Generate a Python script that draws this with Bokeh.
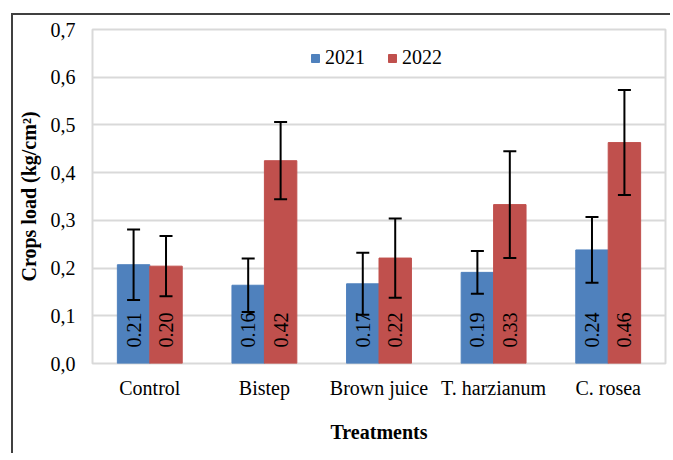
import math
from bokeh.plotting import figure
from bokeh.models import (ColumnDataSource, FactorRange, Range1d, FixedTicker,
                          Whisker, TeeHead, Legend, LegendItem)
from bokeh.transform import dodge
from bokeh.core.properties import value
from bokeh.embed import file_html
from bokeh.resources import INLINE

# ---- data ----
treatments = ["Control", "Bistep", "Brown juice", "T. harzianum", "C. rosea"]
years = ["2021", "2022"]
load_2021 = [0.207, 0.164, 0.167, 0.191, 0.238]
load_2022 = [0.204, 0.425, 0.221, 0.333, 0.463]
err_2021 = [0.074, 0.056, 0.065, 0.045, 0.069]
err_2022 = [0.063, 0.081, 0.083, 0.112, 0.110]
labels_2021 = ["0.21", "0.16", "0.17", "0.19", "0.24"]
labels_2022 = ["0.20", "0.42", "0.22", "0.33", "0.46"]
y_ticks = [0.0, 0.1, 0.2, 0.3, 0.4, 0.5, 0.6, 0.7]
y_tick_labels = ["0,0", "0,1", "0,2", "0,3", "0,4", "0,5", "0,6", "0,7"]

FONT = "Liberation Serif"
BLUE = "#4F81BD"
RED = "#C0504D"
GRID = "#d9d9d9"

src = ColumnDataSource(dict(
    cat=treatments,
    v21=load_2021, v22=load_2022,
    lo21=[v - e for v, e in zip(load_2021, err_2021)],
    hi21=[v + e for v, e in zip(load_2021, err_2021)],
    lo22=[v - e for v, e in zip(load_2022, err_2022)],
    hi22=[v + e for v, e in zip(load_2022, err_2022)],
    t21=labels_2021, t22=labels_2022,
    base=[0.0] * len(treatments),
))

p = figure(width=659, height=440, output_backend="svg", toolbar_location=None,
           x_range=FactorRange(*treatments, range_padding=0.0),
           y_range=Range1d(0, 0.7),
           min_border_left=79, min_border_top=14, min_border_right=7,
           min_border_bottom=92)
p.styles = {"border-left": "2px solid #404040", "border-top": "2px solid #404040"}
p.margin = (13, 0, 0, 11)

W = 0.283
OFF = 0.1415
r21 = p.vbar(x=dodge("cat", -OFF, range=p.x_range), top="v21", width=W, source=src,
             fill_color=BLUE, line_color=BLUE)
r22 = p.vbar(x=dodge("cat", OFF, range=p.x_range), top="v22", width=W, source=src,
             fill_color=RED, line_color=RED)

for col, off in (("t21", -OFF), ("t22", OFF)):
    p.text(x=dodge("cat", off, range=p.x_range), y="base", text=col, source=src,
           angle=math.pi / 2, text_align="left", text_baseline="middle",
           y_offset=-16, text_font=value(FONT), text_font_size="20px",
           text_color="black")

for lo, hi, off in (("lo21", "hi21", -OFF), ("lo22", "hi22", OFF)):
    w = Whisker(base=dodge("cat", off, range=p.x_range), lower=lo, upper=hi,
                source=src, dimension="height", line_color="black", line_width=2,
                upper_head=TeeHead(size=13, line_width=2, line_color="black"),
                lower_head=TeeHead(size=13, line_width=2, line_color="black"))
    w.level = "overlay"
    p.add_layout(w)

# axes
p.yaxis.ticker = FixedTicker(ticks=y_ticks)
p.yaxis.major_label_overrides = {t: s for t, s in zip(y_ticks, y_tick_labels)}
p.yaxis.axis_label = "Crops load (kg/cm²)"
p.xaxis.axis_label = "Treatments"
for ax in (p.xaxis, p.yaxis):
    ax.axis_line_color = None
    ax.major_tick_line_color = None
    ax.minor_tick_line_color = None
    ax.major_tick_in = 0
    ax.major_tick_out = 0
    ax.major_label_text_font = FONT
    ax.major_label_text_font_size = "20px"
    ax.major_label_text_color = "black"
    ax.axis_label_text_font = FONT
    ax.axis_label_text_font_size = "20px"
    ax.axis_label_text_font_style = "bold"
    ax.axis_label_text_color = "black"
p.yaxis.major_label_standoff = 17
p.yaxis.axis_label_standoff = 8
p.xaxis.major_label_standoff = 13
p.xaxis.axis_label_standoff = 19

p.xgrid.grid_line_color = None
p.ygrid.grid_line_color = GRID
p.ygrid.grid_line_width = 2
p.outline_line_color = GRID
p.outline_line_width = 2

legend = Legend(items=[LegendItem(label=years[0], renderers=[r21]),
                       LegendItem(label=years[1], renderers=[r22])],
                orientation="horizontal", location=(218, 294),
                glyph_width=10, glyph_height=10, label_standoff=5, spacing=22,
                padding=0, margin=0, border_line_color=None,
                background_fill_alpha=0, label_text_font=FONT,
                label_text_font_size="20px", label_text_color="black")
p.add_layout(legend, "center")

open("out.html", "w").write(file_html(p, INLINE))
